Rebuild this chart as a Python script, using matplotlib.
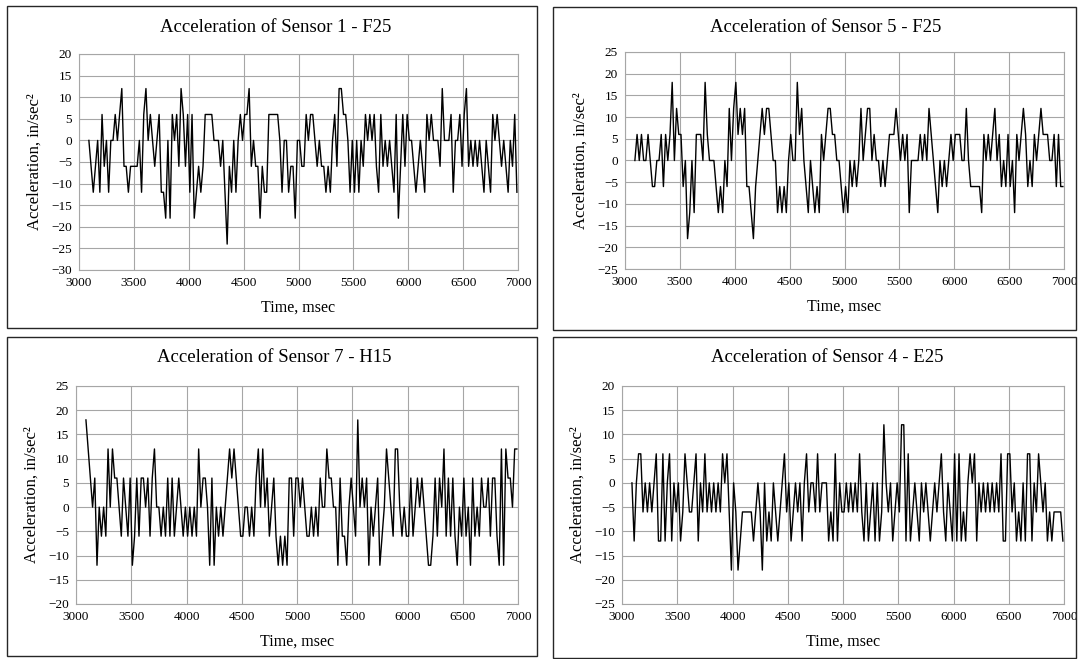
import numpy as np
import matplotlib
matplotlib.use("Agg")
import matplotlib.pyplot as plt
from matplotlib.patches import Rectangle

plt.rcParams["font.family"] = ["Liberation Serif", "DejaVu Serif"]

# sampling start and step of the records (msec)
t0 = 3090
dt = 20

# Sensor 1 - F25 (in/sec^2)
s1_vals = [
    0, -6, -12, -6, 0, -12, 6, -6, 0, -12, 0, 0, 6, 0, 6, 12, -6, -6, -12, -6,
    -6, -6, -6, 0, -12, 6, 12, 0, 6, 0, -6, 0, 6, -12, -12, -18, 0, -18, 6, 0,
    6, -6, 12, 6, -6, 6, -12, 6, -18, -12, -6, -12, -6, 6, 6, 6, 6, 0, 0, 0,
    -6, 0, -12, -24, -6, -12, 0, -12, 0, 6, 0, 6, 6, 12, -6, 0, -6, -6, -18, -6,
    -12, -12, 6, 6, 6, 6, 6, 0, -12, 0, 0, -12, -6, -6, -18, 0,
    0, -6, -6, 6, 0, 6, 6, 0, -6, 0, -6, -6, -12, -6, -12, 0, 6, -6, 12, 12,
    6, 6, 0, -12, 0, -12, 0, -12, 0, -6, 6, 0, 6, 0, 6, -6, -12, 6, -6, 0,
    -6, 0, -6, -12, 6, -18, -6, 6, -6, 6, 0, 0, -6, -12, -6, 0, -6, -12, 6, 0,
    6, 0, 0, 0, -6, 12, 0, 0, 0, 6, -12, 0, 0, 6, -6, 6, 12, -6, 0, -6,
    0, -6, 0, -6, -12, 0, -6, -12, 6, 0, 6, 0, -6, 0, -6, -12, 0, -6, 6, -12,
]

# Sensor 5 - F25
s5_vals = [
    0, 6, 0, 6, 0, 0, 6, 0, -6, -6, 0, 0, 6, -6, 6, 0, 6, 18, 0, 12,
    6, 6, -6, 0, -18, -12, 0, -12, 6, 6, 6, 0, 18, 6, 0, 0, 0, -6, -12, -6,
    -12, 0, -6, 12, 0, 12, 18, 6, 12, 6, 12, -6, -6, -12, -18, -6, 0, 6, 12, 6,
    12, 12, 6, 0, 0, -12, -6, -12, -6, -12, 0, 6, 0, 0, 18, 6, 12, 0, -6, -12,
    0, -6, -12, -6, -12, 6, 0, 6, 12, 12, 6, 6, 0, 0, -6, -12,
    -6, -12, 0, -6, 0, -6, 0, 12, 0, 6, 12, 12, 0, 6, 0, 0, -6, 0, -6, 0,
    6, 6, 6, 12, 6, 0, 6, 0, 6, -12, 0, 0, 0, 0, 6, 0, 6, 0, 12, 6,
    0, -6, -12, 0, -6, 0, -6, 0, 6, 0, 6, 6, 6, 0, 0, 12, 0, -6, -6, -6,
    -6, -6, -12, 6, 0, 6, 0, 6, 12, 0, 6, -6, 0, -6, 6, -6, 0, -12, 6, 0,
    6, 12, 6, -6, 0, -6, 6, 0, 6, 12, 6, 6, 6, 0, 0, 6, -6, 6, -6, -6,
]

# Sensor 7 - H15
s7_vals = [
    18, 12, 6, 0, 6, -12, 0, -6, 0, -6, 12, 0, 12, 6, 6, 0, -6, 6, 0, -6,
    6, -12, -6, 6, -6, 6, 6, 0, 6, -6, 6, 12, 0, 0, -6, 0, -6, 6, -6, 6,
    -6, 0, 6, 0, -6, 0, -6, 0, -6, 0, -6, 12, 0, 6, 6, 0, -12, 6, -12, 0,
    -6, 0, -6, 0, 6, 12, 6, 12, 6, 0, -6, -6, 0, 0, -6, 0, -6, 6, 12, 0,
    12, 0, 6, -6, 0, 6, -6, -12, -6, -12, -6, -12, 6, 6, -6, 6,
    6, 0, 6, 0, -6, -6, 0, -6, 0, -6, 6, 0, 0, 12, 6, 6, 0, 0, -12, 6,
    -6, -6, -12, 0, 6, 0, -6, 18, 0, 6, 0, 6, -12, 0, -6, 0, 6, -12, -6, 0,
    12, 6, 0, -6, 12, 12, 0, -6, 0, -6, -6, 6, -6, 0, 6, 0, 6, 0, -6, -12,
    -12, -6, 6, -6, 6, 0, 12, -6, 6, -6, 6, -6, -12, 0, -6, 6, -6, 0, -12, 6,
    -6, 0, -6, 6, 0, 0, 6, -6, 6, 6, -6, -12, 12, -12, 12, 6, 6, 0, 12, 12,
]

# Sensor 4 - E25
s4_vals = [
    0, -12, 0, 6, 6, -6, 0, -6, 0, -6, 0, 6, -12, -12, 6, -12, 0, 6, -12, 0,
    -6, 0, -12, -6, 6, 0, -6, -6, 0, 6, -12, 0, -6, 6, -6, 0, -6, 0, -6, 0,
    -6, 6, 0, 6, -6, -18, 0, -6, -18, -12, -6, -6, -6, -6, -6, -12, -6, 0, -6, -18,
    0, -12, -6, -12, 0, -6, -12, -6, 0, 6, -6, 0, -12, -6, 0, -6, 0, -12, 0, 6,
    -6, 0, 0, -6, 6, -6, 0, 0, 0, -12, -6, -12, 6, -12, 0, -6,
    -6, 0, -6, 0, -6, 0, -6, 6, -6, -12, 0, -12, -6, 0, -12, 0, -12, -6, 12, 0,
    -6, 0, -12, -6, 0, -6, 12, 12, -12, 6, -12, -6, 0, -6, -12, 0, -6, 0, -6, -12,
    -6, 0, -6, 0, 6, -6, -12, 0, -6, -12, 6, -12, 6, -12, -6, -12, 0, 6, 0, 6,
    -12, 0, -6, 0, -6, 0, -6, 0, -6, 0, -6, 6, -12, -12, 6, 6, -6, 0, -12, -6,
    -12, 0, -12, 6, 6, -12, 0, -6, 6, 0, -6, 0, -12, -6, -12, -6, -6, -6, -6, -12,
]

titles = [
    "Acceleration of Sensor 1 - F25",
    "Acceleration of Sensor 5 - F25",
    "Acceleration of Sensor 7 - H15",
    "Acceleration of Sensor 4 - E25",
]
series = [s1_vals, s5_vals, s7_vals, s4_vals]
ylims = [(-30, 20), (-25, 25), (-20, 25), (-25, 20)]
xticks = [3000, 3500, 4000, 4500, 5000, 5500, 6000, 6500, 7000]

W, H = 1083, 659
fig = plt.figure(figsize=(W / 100, H / 100), dpi=100)

# chart boxes (pixels: left, top, right, bottom)
boxes = [(7, 6, 537, 328), (553, 7, 1076, 330), (7, 337, 537, 656), (553, 337, 1076, 658)]
# plot areas (pixels: left, top, right, bottom)
areas = [(79, 54, 518, 270), (625, 52, 1064, 269), (76, 386, 518, 604), (622, 386, 1064, 604)]
title_pos = [(276, 27), (826, 27), (274, 358), (827, 358)]

for (l, t, r, b) in boxes:
    fig.patches.append(Rectangle((l / W, 1 - b / H), (r - l) / W, (b - t) / H,
                                 transform=fig.transFigure, fill=False,
                                 edgecolor="#262626", linewidth=1.0))

for i in range(4):
    l, t, r, b = areas[i]
    ax = fig.add_axes([l / W, 1 - b / H, (r - l) / W, (b - t) / H])
    vals = np.array(series[i])
    times = t0 + dt * np.arange(len(vals))
    ax.plot(times, vals, color="black", linewidth=1.0)

    lo, hi = ylims[i]
    ax.set_xlim(3000, 7000)
    ax.set_ylim(lo, hi)
    ax.set_xticks(xticks)
    ax.set_yticks(np.arange(lo, hi + 1, 5))
    ax.grid(True, color="#a6a6a6", linewidth=0.8)
    ax.set_axisbelow(True)
    for sp in ax.spines.values():
        sp.set_color("#a6a6a6")
        sp.set_linewidth(0.8)
    ax.tick_params(length=0, labelsize=9.5, pad=5)

    ax.set_xlabel("Time, msec", fontsize=11.5, labelpad=8)
    ax.set_ylabel("Acceleration, in/sec\u00b2", fontsize=12, labelpad=6)

    tx, ty = title_pos[i]
    fig.text(tx / W, 1 - ty / H, titles[i], ha="center", va="center", fontsize=13.5)

fig.savefig("out.png", dpi=100)
